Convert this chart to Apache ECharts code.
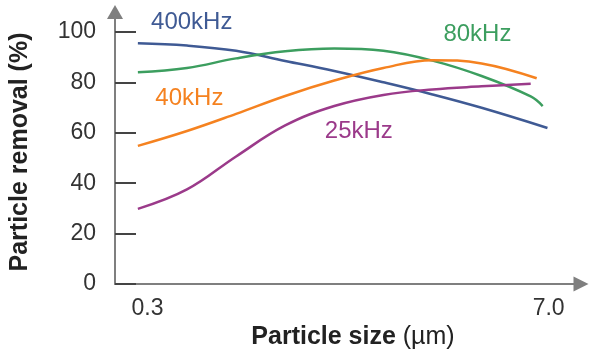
<!DOCTYPE html>
<html><head><meta charset="utf-8">
<script src="https://cdn.jsdelivr.net/npm/echarts@6/dist/echarts.min.js"></script>
<style>html,body{margin:0;padding:0;background:#fff}#c{width:600px;height:357px}</style>
</head><body><div id="c"></div>
<script>
// ---- data ----
const xTickLabels = [0.3, 7.0];
const yTickValues = [0, 20, 40, 60, 80, 100];

const seriesNames = ['400kHz', '80kHz', '40kHz', '25kHz'];

const size400 = [0.14, 0.96, 1.78, 2.60, 3.42, 4.24, 5.06, 5.88, 6.98];
const removal400 = [95.5, 94.6, 92.5, 88.5, 84.5, 80.0, 75.2, 69.9, 61.9];

const size80 = [0.14, 0.96, 1.78, 2.60, 3.42, 4.24, 5.06, 5.88, 6.70, 6.90];
const removal80 = [84.0, 85.7, 89.5, 92.3, 93.4, 92.5, 88.6, 82.5, 74.4, 70.6];

const size40 = [0.14, 0.96, 1.78, 2.60, 3.42, 4.24, 5.06, 5.88, 6.80];
const removal40 = [54.8, 60.7, 67.5, 74.6, 80.7, 85.7, 88.8, 87.5, 81.6];

const size25 = [0.14, 0.96, 1.78, 2.60, 3.42, 4.24, 5.06, 5.88, 6.70];
const removal25 = [29.8, 37.5, 50.6, 62.9, 70.6, 75.0, 77.2, 78.4, 79.4];

// ---- styling / layout ----
const FONT = '"Liberation Sans", Arial, Helvetica, sans-serif';
const colors = ['#3f5a94', '#3c9e5f', '#f58220', '#9b3a8a'];
const labelAnchors = [[1.04, 103.6], [5.81, 99.2], [1.00, 73.5], [3.83, 60.5]];

const pairs = (xs, ys) => xs.map((x, i) => [x, ys[i]]);
const seriesData = [pairs(size400, removal400), pairs(size80, removal80), pairs(size40, removal40), pairs(size25, removal25)];

const chart = echarts.init(document.getElementById('c'), null, {renderer: 'canvas'});
chart.setOption({
  animation: false,
  backgroundColor: '#fff',
  grid: {left: 107, right: 19, top: 12, bottom: 73, containLabel: false},
  xAxis: {
    type: 'value', min: -0.242, max: 7.54,
    axisLine: {show: true, onZero: false, lineStyle: {color: '#7f7f7f', width: 2},
      symbol: ['none', 'triangle'], symbolSize: [15, 15]},
    axisTick: {show: false},
    splitLine: {show: false},
    axisLabel: {customValues: xTickLabels, formatter: v => v.toFixed(1), fontSize: 23, color: '#333',
      margin: 13, fontFamily: FONT},
    name: '{b|Particle size }{n|(µm)}', nameLocation: 'middle', nameGap: 35,
    nameTextStyle: {padding: [0, 0, 0, 10], rich: {
      b: {fontWeight: 'bold', fontSize: 25, fontFamily: FONT, color: '#222'},
      n: {fontSize: 25, fontFamily: FONT, color: '#222'}
    }}
  },
  yAxis: {
    type: 'value', min: 0, max: 107.9,
    axisLine: {show: true, onZero: false, lineStyle: {color: '#7f7f7f', width: 2},
      symbol: ['none', 'triangle'], symbolSize: [16, 14]},
    axisTick: {show: true, inside: true, length: 21, customValues: yTickValues,
      lineStyle: {color: '#444', width: 2}},
    splitLine: {show: false},
    axisLabel: {customValues: yTickValues, fontSize: 23, color: '#333', margin: 19, fontFamily: FONT},
    name: 'Particle removal (%)', nameLocation: 'middle', nameGap: 82,
    nameTextStyle: {fontWeight: 'bold', fontSize: 25, fontFamily: FONT, color: '#222', padding: [0, 8, 0, 0]}
  },
  series: seriesNames.map((n, i) => ({
    name: n, type: 'line', data: seriesData[i], smooth: 0.4, showSymbol: false, clip: false,
    lineStyle: {color: colors[i], width: 2.5}, itemStyle: {color: colors[i]}
  }))
});

chart.setOption({
  graphic: seriesNames.map((n, i) => {
    const p = chart.convertToPixel({gridIndex: 0}, labelAnchors[i]);
    return {type: 'text', x: p[0], y: p[1], z: 10,
      style: {text: n, fill: colors[i], fontSize: 24, fontFamily: FONT,
        textAlign: 'center', textVerticalAlign: 'middle', align: 'center', verticalAlign: 'middle'}};
  })
});
</script></body></html>
